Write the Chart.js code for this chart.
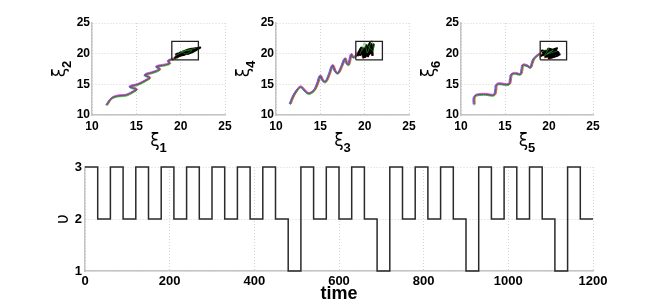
<!DOCTYPE html>
<html>
<head>
<meta charset="utf-8">
<script src="https://cdn.jsdelivr.net/npm/chart.js@4.4.0/dist/chart.umd.min.js"></script>
<style>
  body { margin: 0; background: #fff; }
  #wrap { position: relative; width: 654px; height: 305px; background: #fff; }
  canvas { position: absolute; left: 0; top: 0; }
</style>
</head>
<body>
<div id="wrap">
  <canvas id="phase1" width="654" height="305"></canvas>
  <canvas id="phase2" width="654" height="305"></canvas>
  <canvas id="phase3" width="654" height="305"></canvas>
  <canvas id="modeChart" width="654" height="305"></canvas>
</div>
<script>
/* ---------- data ---------- */

// phase plot 1 : xi1 vs xi2
const path1X = [11.65, 12.21, 12.9, 13.9, 14.65, 15.03, 14.27, 15.21, 16.15, 16.52, 15.96, 16.9, 17.65, 17.28, 18.21, 18.77, 18.58, 19.15, 19.71];
const path1Y = [11.62, 12.71, 13.1, 13.25, 13.8, 14.18, 14.61, 15.0, 15.7, 16.08, 16.52, 16.96, 17.45, 17.87, 18.15, 18.43, 18.8, 19.13, 19.45];
const blob1X = [19.3, 20.4, 19.5, 21.0, 19.8, 21.4, 20.1, 21.8, 20.5, 22.2, 20.8, 21.5, 19.9, 21.2, 20.3, 21.9, 19.6, 20.9];
const blob1Y = [19.3, 20.3, 19.9, 20.3, 19.6, 20.8, 20.2, 20.6, 20.4, 21.0, 20.0, 20.4, 20.1, 20.8, 19.8, 20.9, 19.5, 20.5];
const green1X = [19.4, 20.2, 20.6, 21.3, 20.0, 21.7];
const green1Y = [19.7, 20.2, 19.9, 20.6, 20.3, 20.9];

// phase plot 2 : xi3 vs xi4
const path2X = [11.6, 11.9, 12.3, 12.8, 13.3, 13.7, 14.3, 14.7, 15.0, 15.3, 15.6, 16.0, 16.4, 16.7, 17.0, 17.4, 17.8, 18.0, 18.2, 18.5, 18.7, 19.0, 19.3];
const path2Y = [11.8, 12.9, 13.9, 14.6, 13.9, 13.5, 14.0, 15.2, 16.4, 15.6, 15.4, 16.6, 18.1, 17.1, 16.8, 17.9, 19.2, 18.4, 18.2, 19.9, 19.4, 19.6, 20.3];
const blob2X = [19.2, 19.6, 19.9, 20.2, 20.4, 20.7, 20.9, 20.6, 20.1, 19.8, 19.5, 20.3, 20.8, 21.0, 20.5, 19.4];
const blob2Y = [19.6, 21.0, 19.4, 21.4, 19.6, 21.6, 19.8, 21.8, 19.5, 20.9, 19.8, 21.2, 20.2, 21.5, 19.9, 20.4];
const green2X = [19.5, 20.0, 20.3, 20.8, 21.0, 20.2, 19.7];
const green2Y = [20.0, 21.8, 20.1, 22.2, 20.3, 21.5, 20.5];

// phase plot 3 : xi5 vs xi6
const path3X = [11.5, 11.5, 11.77, 12.82, 13.76, 13.95, 14.02, 14.32, 15.45, 15.64, 15.75, 16.2, 16.76, 16.95, 17.03, 17.52, 17.89, 18.08, 18.27, 18.65, 19.02];
const path3Y = [11.74, 12.81, 13.25, 13.36, 13.25, 14.07, 14.89, 15.1, 15.0, 15.98, 16.63, 16.79, 16.63, 17.61, 18.15, 18.04, 17.72, 18.43, 19.13, 19.67, 20.05];
const blob3X = [19.0, 20.2, 19.3, 20.8, 19.6, 21.1, 19.9, 20.6, 19.4, 20.9, 20.0, 21.2, 19.2, 20.4];
const blob3Y = [19.6, 20.4, 20.2, 20.6, 19.5, 20.2, 20.8, 19.6, 19.9, 20.9, 19.3, 19.9, 20.5, 20.0];
const green3X = [19.2, 20.0, 19.5, 20.5, 19.8, 20.9];
const green3Y = [20.3, 20.9, 19.7, 20.6, 20.0, 20.4];

// target box (same in all three phase plots)
const boxX = [19, 22];
const boxY = [19, 22];

// switching signal
const switchTimes = [0, 30, 60, 90, 120, 150, 180, 210, 240, 270, 300, 330, 360, 390, 420, 450, 480, 510, 540, 570,
  600, 630, 660, 690, 720, 750, 780, 810, 840, 870, 900, 930, 960, 990, 1020, 1050, 1080, 1110, 1140, 1170, 1200];
const modes = [3, 2, 3, 2, 3, 2, 3, 2, 3, 2, 3, 2, 3, 2, 3, 2, 1, 3, 2, 3,
  2, 3, 2, 1, 3, 2, 3, 2, 3, 2, 1, 3, 2, 3, 2, 3, 2, 1, 3, 2];

const phaseTicks = [10, 15, 20, 25];
const timeTicks = [0, 200, 400, 600, 800, 1000, 1200];
const modeTicks = [1, 2, 3];

/* ---------- helpers ---------- */
const W = 654, H = 305;
const FONT = '"Liberation Sans", Arial, sans-serif';

function toPoints(xs, ys) {
  return xs.map((x, i) => ({ x: x, y: ys[i] }));
}

// draw a dataset a pixel off, so the overlapping runs show colour fringes
const shiftPlugin = {
  id: 'shift',
  beforeDatasetDraw(chart, args) {
    const s = chart.data.datasets[args.index].shift;
    if (s) { chart.ctx.save(); chart.ctx.translate(s[0], s[1]); }
  },
  afterDatasetDraw(chart, args) {
    const s = chart.data.datasets[args.index].shift;
    if (s) chart.ctx.restore();
  }
};

function drawSymbol(ctx, x, y, main, sub, rotate) {
  ctx.save();
  ctx.translate(x, y);
  if (rotate) ctx.rotate(-Math.PI / 2);
  ctx.fillStyle = '#000';
  ctx.textBaseline = 'middle';
  ctx.textAlign = 'left';
  ctx.font = '17px "DejaVu Sans"';
  const mw = ctx.measureText(main).width;
  ctx.font = 'bold 13px ' + FONT;
  const sw = sub ? ctx.measureText(sub).width : 0;
  const start = -(mw + sw) / 2;
  ctx.font = '17px "DejaVu Sans"';
  ctx.fillText(main, start, 0);
  if (sub) {
    ctx.font = 'bold 13px ' + FONT;
    ctx.fillText(sub, start + mw, 6);
  }
  ctx.restore();
}

function labelPlugin(xMain, xSub, yMain, ySub, yOff, xOff) {
  return {
    id: 'axisLabels',
    afterDraw(chart) {
      const a = chart.chartArea;
      drawSymbol(chart.ctx, (a.left + a.right) / 2, a.bottom + xOff, xMain, xSub, false);
      drawSymbol(chart.ctx, a.left - yOff, (a.top + a.bottom) / 2, yMain, ySub, true);
    }
  };
}

function axis(min, max, ticks, size, pad, fit) {
  return {
    type: 'linear',
    min: min,
    max: max,
    afterBuildTicks: s => { s.ticks = ticks.map(v => ({ value: v })); },
    afterFit: fit,
    ticks: {
      color: '#000',
      font: { family: FONT, weight: 'bold', size: size },
      padding: pad,
      callback: v => String(v)
    },
    grid: { color: '#d4d4d4', drawTicks: false },
    border: { color: '#c4c4c4', width: 1.5, dash: [1, 2] }
  };
}

// Chart.js paints the first dataset last, so the top layer comes first here
function trajectorySets(xs, ys, bx, by, gx, gy) {
  const line = (data, color, width, shift, tension) => ({
    data: data, borderColor: color, borderWidth: width, pointRadius: 0,
    showLine: true, fill: false, tension: tension, shift: shift
  });
  const path = toPoints(xs, ys);
  const blob = toPoints(bx, by);
  const box = [
    { x: boxX[0], y: boxY[0] }, { x: boxX[1], y: boxY[0] },
    { x: boxX[1], y: boxY[1] }, { x: boxX[0], y: boxY[1] }, { x: boxX[0], y: boxY[0] }
  ];
  return [
    line(box, '#222', 1.3, null, 0),
    line(toPoints(gx, gy), '#30a830', 0.6, null, 0.2),
    line(blob, '#000000', 2.2, null, 0.2),
    line(blob, '#e02020', 1, [-1, 1], 0.2),
    line(path, '#606060', 1.1, null, 0.35),
    line(path, '#e030e0', 0.9, [0, -1], 0.35),
    line(path, '#3040ff', 0.9, [-1, 0], 0.35),
    line(path, '#20c020', 0.9, [0, 1], 0.35),
    line(path, '#ff3030', 0.9, [1, 0], 0.35)
  ];
}

function phaseChart(id, area, xs, ys, bx, by, gx, gy, labels) {
  const YW = 40, XH = 30;
  return new Chart(document.getElementById(id), {
    type: 'scatter',
    data: { datasets: trajectorySets(xs, ys, bx, by, gx, gy) },
    options: {
      responsive: false,
      animation: false,
      clip: false,
      layout: { padding: { left: area.left - YW, top: area.top, right: W - area.right, bottom: H - area.bottom - XH } },
      plugins: { legend: { display: false }, tooltip: { enabled: false } },
      scales: {
        x: axis(10, 25, phaseTicks, 12, 4, s => { s.height = XH; }),
        y: axis(10, 25, phaseTicks, 12, 2, s => { s.width = YW; })
      }
    },
    plugins: [shiftPlugin, labelPlugin(labels[0], labels[1], labels[2], labels[3], 31, 27)]
  });
}

/* ---------- phase plots ---------- */
phaseChart('phase1', { left: 92, top: 23, right: 225, bottom: 115 }, path1X, path1Y, blob1X, blob1Y, green1X, green1Y, ['ξ', '1', 'ξ', '2']);
phaseChart('phase2', { left: 276, top: 23, right: 409, bottom: 115 }, path2X, path2Y, blob2X, blob2Y, green2X, green2Y, ['ξ', '3', 'ξ', '4']);
phaseChart('phase3', { left: 461, top: 23, right: 593, bottom: 115 }, path3X, path3Y, blob3X, blob3Y, green3X, green3Y, ['ξ', '5', 'ξ', '6']);

/* ---------- switching signal ---------- */
const modePoints = modes.map((m, i) => ({ x: switchTimes[i], y: m }));
modePoints.push({ x: switchTimes[switchTimes.length - 1], y: modes[modes.length - 1] });

const modeArea = { left: 85, top: 167, right: 593, bottom: 271 };
const MYW = 30, MXH = 25;

new Chart(document.getElementById('modeChart'), {
  type: 'line',
  data: {
    datasets: [{
      data: modePoints,
      stepped: 'before',
      borderColor: '#2a2a2a',
      borderWidth: 1.5,
      pointRadius: 0,
      fill: false
    }]
  },
  options: {
    responsive: false,
    animation: false,
    clip: false,
    layout: { padding: { left: modeArea.left - MYW, top: modeArea.top, right: W - modeArea.right, bottom: H - modeArea.bottom - MXH } },
    plugins: { legend: { display: false }, tooltip: { enabled: false } },
    scales: {
      x: axis(0, 1200, timeTicks, 13, 3, s => { s.height = MXH; }),
      y: axis(1, 3, modeTicks, 13, 3, s => { s.width = MYW; })
    }
  },
  plugins: [{
    id: 'modeLabels',
    afterDraw(chart) {
      const a = chart.chartArea;
      const ctx = chart.ctx;
      ctx.save();
      ctx.fillStyle = '#000';
      ctx.textAlign = 'center';
      ctx.textBaseline = 'middle';
      ctx.font = 'bold 18px ' + FONT;
      ctx.fillText('time', (a.left + a.right) / 2, a.bottom + 23);
      ctx.translate(a.left - 21, (a.top + a.bottom) / 2);
      ctx.rotate(-Math.PI / 2);
      ctx.font = '17px "DejaVu Sans"';
      ctx.fillText('υ', 0, 0);
      ctx.restore();
    }
  }]
});
</script>
</body>
</html>
